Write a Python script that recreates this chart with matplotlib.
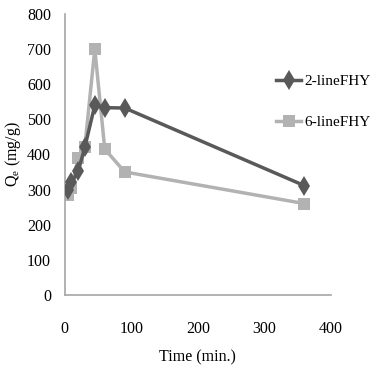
import matplotlib
matplotlib.use('Agg')
import matplotlib.pyplot as plt

time_2line = [5, 10, 20, 30, 45, 60, 90, 360]
qe_2line = [300, 320, 352, 420, 540, 533, 532, 311]
time_6line = [5, 10, 20, 30, 45, 60, 90, 360]
qe_6line = [285, 305, 390, 420, 700, 415, 350, 260]
x_ticks = [0, 100, 200, 300, 400]
y_ticks = [0, 100, 200, 300, 400, 500, 600, 700, 800]

plt.rcParams['font.family'] = ['Liberation Serif', 'DejaVu Serif']

fig = plt.figure(figsize=(3.77, 3.85), dpi=100)
ax = fig.add_axes([0.172, 0.234, 0.706, 0.73])

ax.plot(time_2line, qe_2line, color='#595959', lw=2.5, marker='d',
        ms=10, mew=0, label='2-lineFHY', zorder=3)
ax.plot(time_6line, qe_6line, color='#b2b2b2', lw=2.5, marker='s',
        ms=9, mew=0, label='6-lineFHY', zorder=2)

ax.set_xlim(0, 400)
ax.set_ylim(0, 800)
ax.set_xticks(x_ticks)
ax.set_yticks(y_ticks)
ax.tick_params(length=0, labelsize=11.5)
ax.tick_params(axis='x', pad=19)
ax.tick_params(axis='y', pad=10)
for s in ['top', 'right']:
    ax.spines[s].set_visible(False)
for s in ['left', 'bottom']:
    ax.spines[s].set_color('#a6a6a6')
    ax.spines[s].set_linewidth(1.2)

ax.set_xlabel('Time (min.)', fontsize=11.5, labelpad=9)
ax.set_ylabel('Q$_\\mathregular{e}$ (mg/g)', fontsize=11.5, labelpad=3)

ax.legend(loc='upper left', bbox_to_anchor=(0.795, 0.785), frameon=False,
          fontsize=11, handlelength=1.6, handletextpad=0.2, labelspacing=1.8,
          borderaxespad=0, borderpad=0)

fig.savefig('out.png', dpi=100)
